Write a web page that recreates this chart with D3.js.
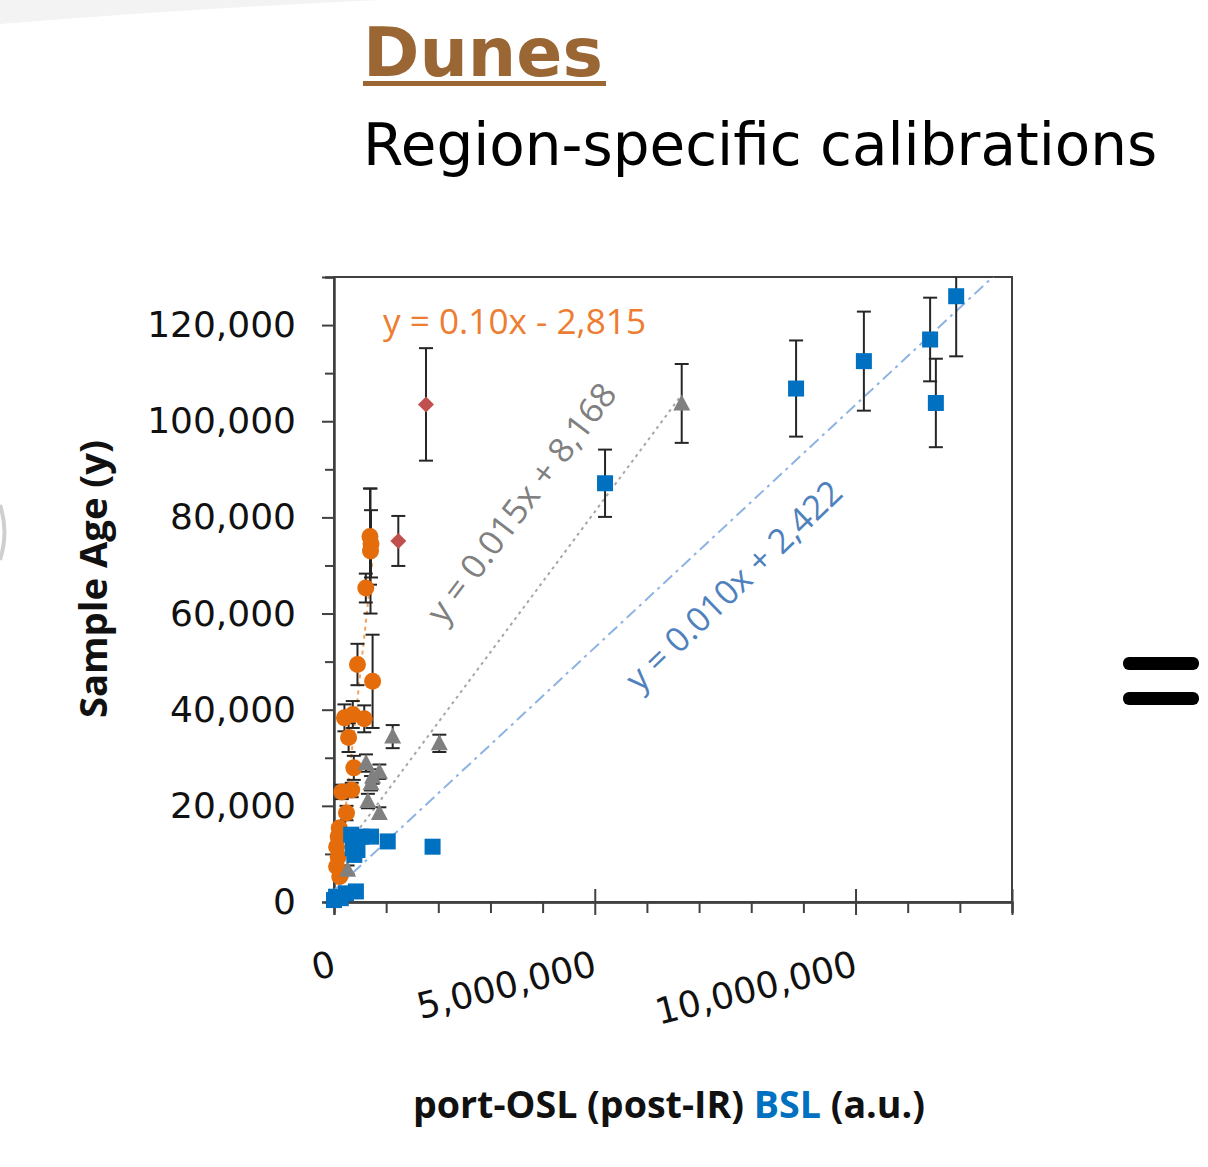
<!DOCTYPE html>
<html>
<head>
<meta charset="utf-8">
<script src="https://cdn.jsdelivr.net/npm/d3@7"></script>
<style>
body { margin: 0; background: #fff; }
</style>
</head>
<body>
<div id="mainDiv"></div>
<script>
// axis ranges and ticks
var xDomain = [0, 13000000];
var yDomain = [0, 130000];
var xMajorTicks = [0, 5000000, 10000000];
var xMinorTicks = [1e6, 2e6, 3e6, 4e6, 6e6, 7e6, 8e6, 9e6, 11e6, 12e6, 13e6];
var yMajorTicks = [0, 20000, 40000, 60000, 80000, 100000, 120000];
var yMinorTicks = [10000, 30000, 50000, 70000, 90000, 110000, 130000];

// orange circles
var orangeX = [690000, 710000, 700000, 610000, 450000, 740000, 200000, 360000, 580000, 280000, 380000, 150000, 340000, 240000, 100000, 80000, 50000, 80000, 50000, 110000];
var orangeY = [76000, 74500, 73000, 65300, 49400, 45900, 38300, 39000, 38100, 34200, 27900, 22900, 23300, 18500, 15400, 13600, 11500, 9400, 7400, 5300];
var orangeErr = [10000, 7000, 13000, 3000, 4300, 9700, 2800, 2800, 2800, 3000, 2500, 1500, 1500, 1500, 1200, 1000, 900, 800, 600, 500];

// grey triangles
var greyX = [6667000, 1125000, 2020000, 614000, 870000, 740000, 710000, 650000, 870000, 260000];
var greyY = [103700, 34400, 33000, 28900, 27100, 26100, 24700, 21000, 18500, 6700];
var greyErr = [8200, 2400, 1800, 1800, 1500, 1500, 1500, 1500, 1200, 900];

// red diamonds
var redX = [1764000, 1233000];
var redY = [103500, 75100];
var redErr = [11700, 5200];

// blue squares
var blueX = [5197000, 8860000, 10160000, 11430000, 11540000, 11930000, 1890000, 330000, 520000, 710000, 1030000, 360000, 450000, 390000, 40000, 230000, 420000, 0, 130000];
var blueY = [87100, 106800, 112500, 117000, 103800, 126000, 11500, 14000, 13600, 13600, 12600, 11200, 10800, 9800, 1100, 1800, 2200, 400, 800];
var blueErr = [7000, 10000, 10300, 8700, 9200, 12500, 0, 700, 700, 700, 600, 600, 600, 500, 100, 150, 150, 50, 80];

// trendlines
var trendSlopes = [0.10, 0.0146, 0.0101];
var trendIntercepts = [-2815, 8168, 2422];
var trendStart = [30000, 260000, 0];
var trendEnd = [750000, 6667000, 13000000];
var trendLabels = ["y = 0.10x - 2,815", "y = 0.015x + 8,168", "y = 0.010x + 2,422"];

var width = 1208, height = 1167;
var plotLeft = 334, plotRight = 1012, plotTop = 277, plotBottom = 902;

var svg = d3.select("#mainDiv").append("svg")
    .attr("width", width)
    .attr("height", height)
    .style("display", "block");

var x = d3.scaleLinear().domain(xDomain).range([plotLeft, plotRight]);
var y = d3.scaleLinear().domain(yDomain).range([plotBottom, plotTop]);

// faint leftovers of the slide
svg.append("path")
    .attr("d", "M0,0 L380,0 Q200,8 0,24 Z")
    .attr("fill", "#f3f3f3");
svg.append("path")
    .attr("d", "M0,505 Q9,532 0,560")
    .attr("fill", "none")
    .attr("stroke", "#cfcfcf")
    .attr("stroke-width", 4);

// titles
svg.append("text")
    .attr("x", 363).attr("y", 76)
    .attr("font-family", "DejaVu Sans, Verdana, sans-serif")
    .attr("font-weight", "bold")
    .attr("font-size", "68px")
    .attr("fill", "#9a6634")
    .text("Dunes");
svg.append("rect")
    .attr("x", 363).attr("y", 81)
    .attr("width", 243).attr("height", 5)
    .attr("fill", "#9a6634");
svg.append("text")
    .attr("x", 363).attr("y", 165)
    .attr("font-family", "DejaVu Sans, Verdana, sans-serif")
    .attr("font-size", "58px")
    .attr("fill", "#000")
    .text("Region-specific calibrations");

// plot frame
svg.append("rect")
    .attr("x", plotLeft).attr("y", plotTop)
    .attr("width", plotRight - plotLeft).attr("height", plotBottom - plotTop)
    .attr("fill", "none")
    .attr("stroke", "#404040")
    .attr("stroke-width", 2);

svg.append("clipPath").attr("id", "plotClip")
    .append("rect")
    .attr("x", plotLeft).attr("y", plotTop)
    .attr("width", plotRight - plotLeft).attr("height", plotBottom - plotTop);

// y axis
var yMinor = svg.append("g").attr("transform", "translate(" + plotLeft + ",0)")
    .call(d3.axisLeft(y).tickValues(yMinorTicks).tickSize(9).tickFormat(""));
var yMajor = svg.append("g").attr("transform", "translate(" + plotLeft + ",0)")
    .call(d3.axisLeft(y).tickValues(yMajorTicks).tickSize(12).tickPadding(26).tickFormat(d3.format(",")));
[yMinor, yMajor].forEach(function(g) {
    g.select(".domain").attr("stroke", "#404040").attr("stroke-width", 2);
    g.selectAll(".tick line").attr("stroke", "#404040").attr("stroke-width", 2);
});
yMajor.selectAll(".tick text")
    .attr("font-family", "DejaVu Sans, Verdana, sans-serif")
    .attr("font-size", "36px")
    .attr("fill", "#111");

// x axis
var xMinor = svg.append("g").attr("transform", "translate(0," + plotBottom + ")")
    .call(d3.axisBottom(x).tickValues(xMinorTicks).tickSize(11).tickFormat(""));
var xMajor = svg.append("g").attr("transform", "translate(0," + plotBottom + ")")
    .call(d3.axisBottom(x).tickValues(xMajorTicks).tickSize(13).tickFormat(d3.format(",")));
var xMajorUp = svg.append("g").attr("transform", "translate(0," + plotBottom + ")")
    .call(d3.axisTop(x).tickValues(xMajorTicks.slice(1)).tickSize(13).tickFormat(""));
[xMinor, xMajor, xMajorUp].forEach(function(g) {
    g.select(".domain").attr("stroke", "#404040").attr("stroke-width", 2);
    g.selectAll(".tick line").attr("stroke", "#404040").attr("stroke-width", 2);
});
xMajor.selectAll(".tick text")
    .attr("font-family", "DejaVu Sans, Verdana, sans-serif")
    .attr("font-size", "36px")
    .attr("fill", "#111")
    .attr("text-anchor", "end")
    .attr("dy", null)
    .attr("y", null)
    .attr("transform", "translate(3,73) rotate(-14)");

// axis titles
var xTitle = svg.append("text")
    .attr("x", 669).attr("y", 1118)
    .attr("text-anchor", "middle")
    .attr("font-family", "Liberation Sans Narrow, Open Sans, sans-serif")
    .attr("font-weight", "bold")
    .attr("font-size", "38px")
    .attr("textLength", 512)
    .attr("lengthAdjust", "spacingAndGlyphs")
    .attr("fill", "#111");
xTitle.append("tspan").text("port-OSL (post-IR) ");
xTitle.append("tspan").attr("fill", "#0070c0").text("BSL");
xTitle.append("tspan").text(" (a.u.)");

svg.append("text")
    .attr("transform", "translate(107,579) rotate(-90)")
    .attr("text-anchor", "middle")
    .attr("font-family", "Liberation Sans Narrow, Open Sans, sans-serif")
    .attr("font-weight", "bold")
    .attr("font-size", "38px")
    .attr("textLength", 278)
    .attr("lengthAdjust", "spacingAndGlyphs")
    .attr("fill", "#111")
    .text("Sample  Age (y)");

// lines and error bars are clipped to the plot, markers are not
var plot = svg.append("g").attr("clip-path", "url(#plotClip)");
var markers = svg.append("g");

// trendlines
var trendColors = ["#f4a460", "#a6a6a6", "#8db3e2"];
var trendDash = ["4,4", "3,4", "12,5,3,5"];
trendSlopes.forEach(function(m, i) {
    var x0 = trendStart[i], x1 = trendEnd[i];
    plot.append("line")
        .attr("x1", x(x0)).attr("y1", y(m * x0 + trendIntercepts[i]))
        .attr("x2", x(x1)).attr("y2", y(m * x1 + trendIntercepts[i]))
        .attr("stroke", trendColors[i])
        .attr("stroke-width", 2)
        .attr("stroke-dasharray", trendDash[i]);
});

// error bars + markers
function drawSeries(xs, ys, errs, shape) {
    var g = plot.append("g");
    xs.forEach(function(v, i) {
        if (errs[i] > 0) {
            var px = x(v), lo = y(ys[i] - errs[i]), hi = y(ys[i] + errs[i]);
            g.append("line").attr("x1", px).attr("x2", px).attr("y1", lo).attr("y2", hi)
                .attr("stroke", "#262626").attr("stroke-width", 2);
            [lo, hi].forEach(function(cy) {
                g.append("line").attr("x1", px - 7).attr("x2", px + 7).attr("y1", cy).attr("y2", cy)
                    .attr("stroke", "#262626").attr("stroke-width", 2);
            });
        }
    });
    var m = markers.append("g");
    xs.forEach(function(v, i) {
        shape(m, x(v), y(ys[i]));
    });
}

drawSeries(orangeX, orangeY, orangeErr, function(g, px, py) {
    g.append("circle").attr("cx", px).attr("cy", py).attr("r", 8.5).attr("fill", "#e46c0a");
});
drawSeries(redX, redY, redErr, function(g, px, py) {
    g.append("path").attr("d", "M" + px + "," + (py - 8) + " l8,8 l-8,8 l-8,-8 Z").attr("fill", "#c0504d");
});
drawSeries(greyX, greyY, greyErr, function(g, px, py) {
    g.append("path").attr("d", "M" + px + "," + (py - 9) + " l8.5,16 l-17,0 Z").attr("fill", "#808080");
});
drawSeries(blueX, blueY, blueErr, function(g, px, py) {
    g.append("rect").attr("x", px - 8).attr("y", py - 8).attr("width", 16).attr("height", 16).attr("fill", "#0070c0");
});

// trendline equations
svg.append("text")
    .attr("x", 383).attr("y", 334)
    .attr("font-family", "Liberation Sans Narrow, Open Sans, sans-serif")
    .attr("font-size", "34px")
    .attr("textLength", 263)
    .attr("lengthAdjust", "spacingAndGlyphs")
    .attr("fill", "#ed7d31")
    .text(trendLabels[0]);
svg.append("text")
    .attr("transform", "translate(531,510) rotate(-53)")
    .attr("text-anchor", "middle")
    .attr("font-family", "Liberation Sans Narrow, Open Sans, sans-serif")
    .attr("font-size", "34px")
    .attr("textLength", 290)
    .attr("lengthAdjust", "spacingAndGlyphs")
    .attr("fill", "#808080")
    .text(trendLabels[1]);
svg.append("text")
    .attr("transform", "translate(742,594) rotate(-44)")
    .attr("text-anchor", "middle")
    .attr("font-family", "Liberation Sans Narrow, Open Sans, sans-serif")
    .attr("font-size", "34px")
    .attr("textLength", 285)
    .attr("lengthAdjust", "spacingAndGlyphs")
    .attr("fill", "#4f81bd")
    .text(trendLabels[2]);

// equals sign on the right
[657, 692].forEach(function(ty) {
    svg.append("rect")
        .attr("x", 1123).attr("y", ty)
        .attr("width", 76).attr("height", 13)
        .attr("rx", 6)
        .attr("fill", "#000");
});
</script>
</body>
</html>
